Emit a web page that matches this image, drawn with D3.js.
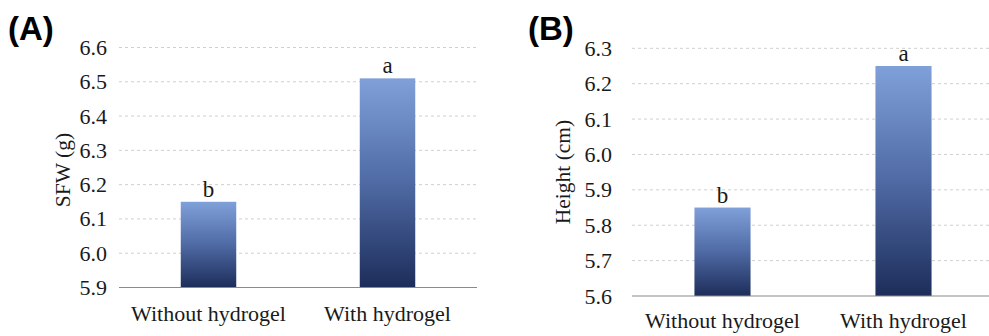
<!DOCTYPE html>
<html lang="en">
<head>
  <meta charset="UTF-8">
  <script src="https://cdn.jsdelivr.net/npm/d3@7/dist/d3.min.js"></script>
  <title>Hydrogel bars</title>
  <style>
    body { margin: 0; background: #fff; }
    text { font-family: "Liberation Serif", "Times New Roman", serif; fill: #1a1a1a; }
    .panel-label { font-family: "Liberation Sans", Arial, sans-serif; font-weight: bold; font-size: 33px; fill: #000; }
    .grid line { stroke: #cfcfcf; stroke-dasharray: 3 3; }
  </style>
</head>
<body>
  <script>
    // data
    const categories = ["Without hydrogel", "With hydrogel"];
    const sfwValues = [6.15, 6.51];
    const sfwLetters = ["b", "a"];
    const sfwTicks = [5.9, 6.0, 6.1, 6.2, 6.3, 6.4, 6.5, 6.6];
    const heightValues = [5.85, 6.25];
    const heightLetters = ["b", "a"];
    const heightTicks = [5.6, 5.7, 5.8, 5.9, 6.0, 6.1, 6.2, 6.3];

    const width = 989, height = 336;
    const svg = d3.select("body").append("svg")
      .attr("width", width)
      .attr("height", height);

    const defs = svg.append("defs");
    const grad = defs.append("linearGradient")
      .attr("id", "barGrad")
      .attr("x1", 0).attr("y1", 0).attr("x2", 0).attr("y2", 1);
    grad.append("stop").attr("offset", "0%").attr("stop-color", "#80a0da");
    grad.append("stop").attr("offset", "50%").attr("stop-color", "#4f6aa4");
    grad.append("stop").attr("offset", "100%").attr("stop-color", "#1d2d5a");

    function drawPanel(opt) {
      const g = svg.append("g");
      const x = d3.scaleBand().domain(categories).range([opt.x0, opt.x1]).padding(0);
      const y = d3.scaleLinear().domain(d3.extent(opt.ticks)).range([opt.yBottom, opt.yTop]);
      const barW = x.bandwidth() * 0.31;

      // grid
      g.append("g").attr("class", "grid")
        .selectAll("line")
        .data(opt.ticks.slice(1))
        .join("line")
        .attr("x1", opt.x0).attr("x2", opt.x1)
        .attr("y1", d => y(d)).attr("y2", d => y(d));

      // y axis labels
      const yAxis = d3.axisLeft(y).tickValues(opt.ticks)
        .tickFormat(d3.format(".1f")).tickSize(0).tickPadding(opt.tickPad);
      const ya = g.append("g").attr("transform", `translate(${opt.x0},0)`).call(yAxis);
      ya.select(".domain").remove();
      ya.attr("font-family", null).attr("font-size", null);
      ya.selectAll("text")
        .style("font-family", '"Liberation Serif", serif')
        .style("font-size", "22px").attr("fill", "#1a1a1a");

      // bars
      g.selectAll("rect.bar")
        .data(opt.values)
        .join("rect")
        .attr("class", "bar")
        .attr("x", (d, i) => x(categories[i]) + x.bandwidth() / 2 - barW / 2)
        .attr("width", barW)
        .attr("y", d => y(d))
        .attr("height", d => opt.yBottom - y(d))
        .attr("fill", "url(#barGrad)");

      // letters
      g.selectAll("text.sig")
        .data(opt.values)
        .join("text")
        .attr("class", "sig")
        .attr("x", (d, i) => x(categories[i]) + x.bandwidth() / 2)
        .attr("y", d => y(d) - 5)
        .attr("text-anchor", "middle")
        .style("font-size", "23px")
        .text((d, i) => opt.letters[i]);

      // baseline
      g.append("line")
        .attr("x1", opt.x0).attr("x2", opt.x1)
        .attr("y1", opt.yBottom).attr("y2", opt.yBottom)
        .attr("stroke", "#8a8a8a").attr("stroke-width", 1.2);

      // category labels
      g.selectAll("text.cat")
        .data(categories)
        .join("text")
        .attr("class", "cat")
        .attr("x", d => x(d) + x.bandwidth() / 2)
        .attr("y", opt.catY)
        .attr("text-anchor", "middle")
        .style("font-size", "22px")
        .text(d => d);

      // y title
      g.append("text")
        .attr("transform", `translate(${opt.titleX},${opt.titleY}) rotate(-90)`)
        .attr("text-anchor", "middle")
        .style("font-size", "21.5px")
        .text(opt.title);

      g.append("text")
        .attr("class", "panel-label")
        .attr("x", opt.labelX).attr("y", 40)
        .text(opt.label);
    }

    drawPanel({
      x0: 119, x1: 477, yTop: 47.5, yBottom: 287.5,
      ticks: sfwTicks, values: sfwValues, letters: sfwLetters,
      tickPad: 12, catY: 321, titleX: 70, titleY: 170,
      title: "SFW (g)", label: "(A)", labelX: 8
    });

    drawPanel({
      x0: 632, x1: 994, yTop: 48.3, yBottom: 296,
      ticks: heightTicks, values: heightValues, letters: heightLetters,
      tickPad: 20, catY: 328, titleX: 570, titleY: 172,
      title: "Height (cm)", label: "(B)", labelX: 528
    });
  </script>
</body>
</html>
